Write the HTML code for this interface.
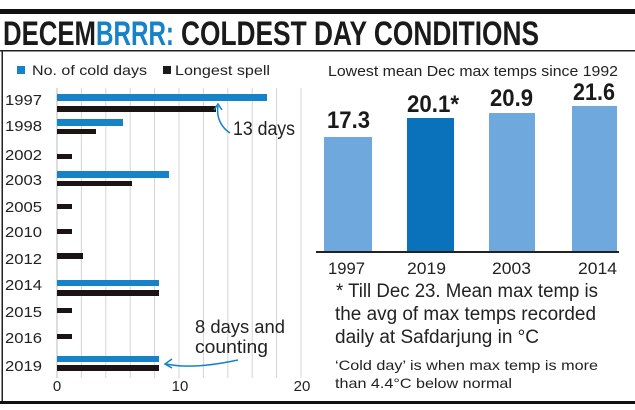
<!DOCTYPE html>
<html><head><meta charset="utf-8"><style>
html,body{margin:0;padding:0;background:#fff;}
svg{display:block;font-family:"Liberation Sans",sans-serif;}
</style></head><body>
<svg width="635" height="410" viewBox="0 0 635 410" xmlns="http://www.w3.org/2000/svg">
<rect x="0" y="0" width="635" height="410" fill="#fff"/>
<rect x="0" y="9" width="635" height="5" fill="#111"/>
<text x="3" y="45" font-size="34" font-weight="bold" fill="#1a1a1a" textLength="93" lengthAdjust="spacingAndGlyphs">DECEM</text>
<text x="96" y="45" font-size="34" font-weight="bold" fill="#1683c8" textLength="78" lengthAdjust="spacingAndGlyphs">BRRR:</text>
<text x="181" y="45" font-size="34" font-weight="bold" fill="#1a1a1a" textLength="358" lengthAdjust="spacingAndGlyphs">COLDEST DAY CONDITIONS</text>
<rect x="0" y="50" width="635" height="1.5" fill="#222"/>
<rect x="1.5" y="50" width="1.5" height="353" fill="#222"/>
<rect x="0" y="401" width="635" height="3" fill="#111"/>
<!-- legend -->
<rect x="17" y="66" width="8" height="8" fill="#1683c8"/>
<text x="32" y="75" font-size="14" fill="#222" textLength="115" lengthAdjust="spacingAndGlyphs">No. of cold days</text>
<rect x="163" y="66" width="8" height="8" fill="#1a1a1a"/>
<text x="175" y="75" font-size="14" fill="#222" textLength="95" lengthAdjust="spacingAndGlyphs">Longest spell</text>
<!-- grid -->
<g stroke="#d4d4d4" stroke-width="1">
<line x1="81.4" y1="88" x2="81.4" y2="378"/><line x1="105.8" y1="88" x2="105.8" y2="378"/>
<line x1="130.2" y1="88" x2="130.2" y2="378"/><line x1="154.6" y1="88" x2="154.6" y2="378"/>
<line x1="179" y1="88" x2="179" y2="378"/><line x1="203.4" y1="88" x2="203.4" y2="378"/>
<line x1="227.8" y1="88" x2="227.8" y2="378"/><line x1="252.2" y1="88" x2="252.2" y2="378"/>
<line x1="276.6" y1="88" x2="276.6" y2="378"/><line x1="301" y1="88" x2="301" y2="378"/>
</g>
<line x1="57" y1="88" x2="57" y2="378" stroke="#bbb"/>
<!-- year labels -->
<g font-size="15" fill="#222">
<text x="5" y="105" textLength="37" lengthAdjust="spacingAndGlyphs">1997</text>
<text x="5" y="131" textLength="37" lengthAdjust="spacingAndGlyphs">1998</text>
<text x="5" y="160" textLength="37" lengthAdjust="spacingAndGlyphs">2002</text>
<text x="5" y="185" textLength="37" lengthAdjust="spacingAndGlyphs">2003</text>
<text x="5" y="212" textLength="37" lengthAdjust="spacingAndGlyphs">2005</text>
<text x="5" y="237" textLength="37" lengthAdjust="spacingAndGlyphs">2010</text>
<text x="5" y="264" textLength="37" lengthAdjust="spacingAndGlyphs">2012</text>
<text x="5" y="290" textLength="37" lengthAdjust="spacingAndGlyphs">2014</text>
<text x="5" y="317" textLength="37" lengthAdjust="spacingAndGlyphs">2015</text>
<text x="5" y="343" textLength="37" lengthAdjust="spacingAndGlyphs">2016</text>
<text x="5" y="371" textLength="37" lengthAdjust="spacingAndGlyphs">2019</text>
</g>
<!-- bars -->
<g fill="#1683c8">
<rect x="57" y="94" width="210" height="7"/>
<rect x="57" y="119" width="66" height="7"/>
<rect x="57" y="171" width="112" height="7"/>
<rect x="57" y="280" width="102" height="6"/>
<rect x="57" y="356" width="102" height="6"/>
</g>
<g fill="#1a1414">
<rect x="57" y="106" width="159" height="6"/>
<rect x="57" y="129" width="39" height="5"/>
<rect x="57" y="154" width="15" height="5"/>
<rect x="57" y="181" width="75" height="5"/>
<rect x="57" y="204" width="15" height="5"/>
<rect x="57" y="229" width="15" height="5"/>
<rect x="57" y="253" width="26" height="6"/>
<rect x="57" y="290" width="102" height="6"/>
<rect x="57" y="308" width="15" height="5"/>
<rect x="57" y="334" width="15" height="5"/>
<rect x="57" y="365" width="102" height="6"/>
</g>
<!-- x axis labels -->
<g font-size="15" fill="#222" text-anchor="middle">
<text x="57" y="391">0</text><text x="180" y="391">10</text><text x="302" y="391">20</text>
</g>
<!-- annotations -->
<path d="M218,106 C216,118 222,128 230,133" stroke="#1683c8" stroke-width="1.5" fill="none"/>
<path d="M214,110 L218,104 L222,110" stroke="#1683c8" stroke-width="1.5" fill="none"/>
<text x="233" y="135" font-size="19" fill="#222" textLength="62" lengthAdjust="spacingAndGlyphs">13 days</text>
<text x="195" y="333" font-size="18" fill="#222" textLength="90" lengthAdjust="spacingAndGlyphs">8 days and</text>
<text x="195" y="353" font-size="18" fill="#222" textLength="73" lengthAdjust="spacingAndGlyphs">counting</text>
<path d="M238,360 C210,366 185,368 166,364" stroke="#1683c8" stroke-width="1.5" fill="none"/>
<path d="M172,359 L165,364 L172,368" stroke="#1683c8" stroke-width="1.5" fill="none"/>
<!-- right panel -->
<text x="328" y="76" font-size="15" fill="#222" textLength="290" lengthAdjust="spacingAndGlyphs">Lowest mean Dec max temps since 1992</text>
<rect x="324" y="137" width="48" height="115" fill="#6fa8dc"/>
<rect x="407" y="118" width="47" height="134" fill="#0a72bb"/>
<rect x="489" y="113" width="46" height="139" fill="#6fa8dc"/>
<rect x="572" y="106" width="45" height="146" fill="#6fa8dc"/>
<rect x="316" y="251" width="303" height="2" fill="#222"/>
<g font-size="24" font-weight="bold" fill="#1a1a1a">
<text x="327" y="128" textLength="43" lengthAdjust="spacingAndGlyphs">17.3</text>
<text x="407" y="112" textLength="52" lengthAdjust="spacingAndGlyphs">20.1*</text>
<text x="490" y="106" textLength="43" lengthAdjust="spacingAndGlyphs">20.9</text>
<text x="573" y="100" textLength="42" lengthAdjust="spacingAndGlyphs">21.6</text>
</g>
<g font-size="17" fill="#222">
<text x="328" y="274" textLength="37" lengthAdjust="spacingAndGlyphs">1997</text>
<text x="407" y="274" textLength="39" lengthAdjust="spacingAndGlyphs">2019</text>
<text x="492" y="274" textLength="39" lengthAdjust="spacingAndGlyphs">2003</text>
<text x="578" y="274" textLength="39" lengthAdjust="spacingAndGlyphs">2014</text>
</g>
<g font-size="19" fill="#222">
<text x="336" y="297" textLength="262" lengthAdjust="spacingAndGlyphs">* Till Dec 23. Mean max temp is</text>
<text x="335" y="320" textLength="261" lengthAdjust="spacingAndGlyphs">the avg of max temps recorded</text>
<text x="335" y="343" textLength="204" lengthAdjust="spacingAndGlyphs">daily at Safdarjung in °C</text>
</g>
<g font-size="14" fill="#222">
<text x="335" y="370" textLength="263" lengthAdjust="spacingAndGlyphs">‘Cold day’ is when max temp is more</text>
<text x="335" y="388" textLength="177" lengthAdjust="spacingAndGlyphs">than 4.4°C below normal</text>
</g>
</svg>
</body></html>
